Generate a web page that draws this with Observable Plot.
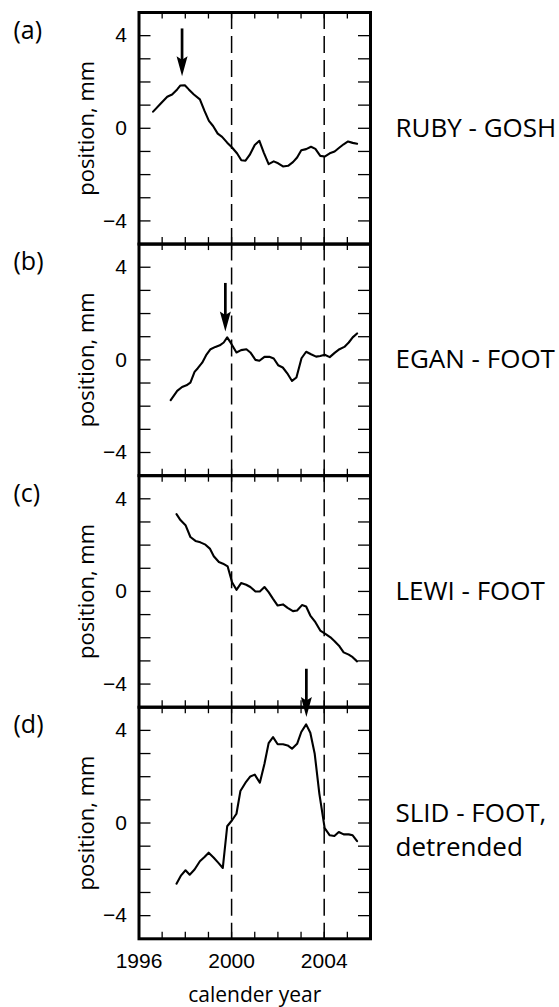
<!DOCTYPE html>
<html><head><meta charset="utf-8">
<script src="https://cdn.jsdelivr.net/npm/d3@7"></script>
<script src="https://cdn.jsdelivr.net/npm/@observablehq/plot@0.6"></script>
<style>body{margin:0;background:#fff}</style>
</head><body><div id="chart"></div>
<script>
// ---- data ----
const panels = ["a", "b", "c", "d"];
const panelTags = ["(a)", "(b)", "(c)", "(d)"];
const pairNames = ["RUBY - GOSH", "EGAN - FOOT", "LEWI - FOOT", "SLID - FOOT,\ndetrended"];

const yearsA = [1996.61,1996.93,1997.22,1997.43,1997.65,1997.79,1997.98,1998.15,1998.37,1998.63,1998.83,1999.02,1999.20,1999.40,1999.59,1999.81,2000.02,2000.24,2000.42,2000.60,2000.78,2001.00,2001.20,2001.39,2001.60,2001.82,2002.01,2002.22,2002.44,2002.65,2002.83,2003.01,2003.22,2003.43,2003.62,2003.83,2004.02,2004.24,2004.45,2004.66,2004.84,2005.03,2005.23,2005.42];
const posA = [0.72,1.06,1.36,1.46,1.68,1.85,1.86,1.68,1.46,1.25,0.75,0.32,0.10,-0.23,-0.37,-0.62,-0.83,-1.09,-1.38,-1.40,-1.15,-0.72,-0.54,-1.05,-1.55,-1.43,-1.51,-1.65,-1.62,-1.46,-1.26,-0.95,-0.90,-0.80,-0.89,-1.19,-1.22,-1.08,-1.00,-0.83,-0.69,-0.57,-0.63,-0.67];

const yearsB = [1997.37,1997.65,1997.86,1998.05,1998.22,1998.40,1998.54,1998.73,1998.90,1999.09,1999.30,1999.49,1999.66,1999.81,1999.98,2000.21,2000.41,2000.64,2000.81,2001.03,2001.20,2001.42,2001.63,2001.82,2002.01,2002.21,2002.43,2002.61,2002.80,2003.02,2003.22,2003.43,2003.65,2003.83,2004.02,2004.24,2004.45,2004.66,2004.87,2005.06,2005.23,2005.42];
const posB = [-1.74,-1.34,-1.17,-1.10,-0.98,-0.52,-0.36,-0.12,0.20,0.46,0.56,0.63,0.75,0.97,0.71,0.32,0.42,0.46,0.32,0.00,-0.04,0.13,0.13,0.06,-0.23,-0.33,-0.62,-0.91,-0.76,0.07,0.35,0.24,0.14,0.17,0.22,0.12,0.30,0.46,0.56,0.75,0.97,1.14];

const yearsC = [1997.62,1997.79,1998.01,1998.22,1998.44,1998.65,1998.87,1999.06,1999.23,1999.45,1999.63,1999.83,2000.02,2000.21,2000.41,2000.63,2000.81,2001.03,2001.22,2001.42,2001.60,2001.79,2001.99,2002.22,2002.42,2002.65,2002.83,2003.04,2003.22,2003.40,2003.62,2003.83,2004.05,2004.27,2004.45,2004.66,2004.84,2005.06,2005.23,2005.42];
const posC = [3.34,3.08,2.86,2.35,2.18,2.12,2.02,1.85,1.52,1.27,1.20,1.08,0.40,0.07,0.36,0.29,0.19,0.00,0.00,0.19,-0.03,-0.32,-0.61,-0.56,-0.71,-0.85,-0.82,-0.59,-0.65,-1.04,-1.33,-1.69,-1.83,-1.98,-2.15,-2.37,-2.63,-2.73,-2.84,-3.02];

const yearsD = [1997.62,1997.82,1998.01,1998.19,1998.40,1998.63,1998.83,1999.01,1999.23,1999.42,1999.62,1999.81,2000.02,2000.21,2000.38,2000.60,2000.81,2001.00,2001.22,2001.42,2001.60,2001.79,2001.99,2002.22,2002.42,2002.61,2002.83,2003.01,2003.22,2003.40,2003.59,2003.79,2004.02,2004.24,2004.44,2004.63,2004.84,2005.06,2005.23,2005.42];
const posD = [-2.62,-2.26,-2.04,-2.23,-2.01,-1.65,-1.47,-1.28,-1.50,-1.71,-1.94,-0.14,0.12,0.40,1.38,1.74,2.01,2.09,1.74,2.56,3.45,3.71,3.40,3.40,3.35,3.21,3.42,3.93,4.26,3.90,2.99,1.27,-0.22,-0.53,-0.56,-0.39,-0.49,-0.49,-0.53,-0.78];

const arrowPanels = ["a", "b", "d"];
const arrowYears = [1997.86, 1999.73, 2003.23];
const arrowTops = [4.29, 3.30, 6.64];
const arrowTips = [2.25, 1.22, 4.58];

const dashedYears = [2000, 2004];
const xMinorTicks = [1997, 1998, 1999, 2000, 2001, 2002, 2003, 2004, 2005];
const xTickLabels = [1996, 2000, 2004];
const yMinorTicks = [-4, -3, -2, -1, 0, 1, 2, 3, 4];
const yTickLabels = [-4, 0, 4];
const yLabel = "position, mm";
const xLabel = "calender year";

// ---- tables ----
const seriesYears = [yearsA, yearsB, yearsC, yearsD];
const seriesPos = [posA, posB, posC, posD];
const rows = panels.flatMap((p, i) => seriesYears[i].map((yr, j) => ({panel: p, year: yr, pos: seriesPos[i][j]})));
const panelRows = panels.map((p, i) => ({panel: p, tag: panelTags[i], name: pairNames[i]}));
const arrows = arrowPanels.map((p, i) => ({panel: p, year: arrowYears[i], top: arrowTops[i], tip: arrowTips[i]}));

const W = 559, H = 1007;
const mL = 138.5, mR = 189, mT = 12, mB = 68.7;
const innerW = W - mL - mR;
const facetH = (H - mT - mB) / panels.length;
const yTickLen = 12, xTickLen = 6.5;
const sans = "'Open Sans', sans-serif";
const helv = "'Liberation Sans', Arial, sans-serif";

const arrowHead = {
  draw(ctx) {
    ctx.moveTo(0, 0);
    ctx.lineTo(-5.5, -20);
    ctx.lineTo(0, -16.5);
    ctx.lineTo(5.5, -20);
    ctx.closePath();
  }
};

const chart = Plot.plot({
  width: W, height: H,
  marginLeft: mL, marginRight: mR, marginTop: mT, marginBottom: mB,
  style: {background: "#fff", color: "#000"},
  x: {domain: [1996, 2006]},
  y: {domain: [-5, 5]},
  fy: {domain: panels, padding: 0, round: false, axis: null, label: null},
  marks: [
    Plot.ruleX(dashedYears, {stroke: "#000", strokeWidth: 1.5, strokeDasharray: "17,7"}),
    Plot.tickY(yMinorTicks, {y: d => d, insetRight: innerW - yTickLen, stroke: "#000", strokeWidth: 1.3}),
    Plot.tickY(yMinorTicks, {y: d => d, insetLeft: innerW - yTickLen, stroke: "#000", strokeWidth: 1.3}),
    Plot.tickX(xMinorTicks, {x: d => d, insetBottom: facetH - xTickLen, stroke: "#000", strokeWidth: 1.3}),
    Plot.tickX(xMinorTicks, {x: d => d, insetTop: facetH - xTickLen, stroke: "#000", strokeWidth: 1.3}),
    Plot.line(rows, {x: "year", y: "pos", fy: "panel", stroke: "#000", strokeWidth: 2.1}),
    Plot.ruleX(arrows, {x: "year", y1: "top", y2: "tip", fy: "panel", stroke: "#000", strokeWidth: 2.7, insetBottom: 10}),
    Plot.dot(arrows, {x: "year", y: "tip", fy: "panel", symbol: arrowHead, fill: "#000", stroke: "none", r: 5}),
    Plot.frame({stroke: "#000", strokeWidth: 3}),
    Plot.axisY(yTickLabels, {anchor: "left", tickSize: 0, tickPadding: 12, fontSize: 21, fontFamily: helv, label: null, facetAnchor: null}),
    Plot.axisX(xTickLabels, {anchor: "bottom", tickSize: 0, tickPadding: 14, fontSize: 21, fontFamily: helv, label: null, tickFormat: d => String(d)}),
    Plot.text(panelRows, {fy: "panel", text: "tag", frameAnchor: "top-left", textAnchor: "start", lineAnchor: "middle", dx: -125.5, dy: 18, fontSize: 25, fontFamily: sans}),
    Plot.text(panelRows, {fy: "panel", text: () => yLabel, frameAnchor: "left", rotate: -90, textAnchor: "middle", lineAnchor: "middle", dx: -52.5, fontSize: 22, fontFamily: sans}),
    Plot.text(panelRows.filter(d => d.panel !== "d"), {fy: "panel", text: "name", frameAnchor: "right", textAnchor: "start", lineAnchor: "middle", dx: 25, fontSize: 26, fontFamily: sans}),
    Plot.text(panelRows.filter(d => d.panel === "d"), {fy: "panel", text: "name", frameAnchor: "right", textAnchor: "start", lineAnchor: "middle", dx: 25, dy: 5, lineHeight: 1.3, fontSize: 26, fontFamily: sans}),
    Plot.text([xLabel], {fy: () => "d", text: d => d, frameAnchor: "bottom", textAnchor: "middle", lineAnchor: "middle", dy: 56, fontSize: 21, fontFamily: sans})
  ]
});
document.getElementById("chart").appendChild(chart);
</script>
</body></html>
